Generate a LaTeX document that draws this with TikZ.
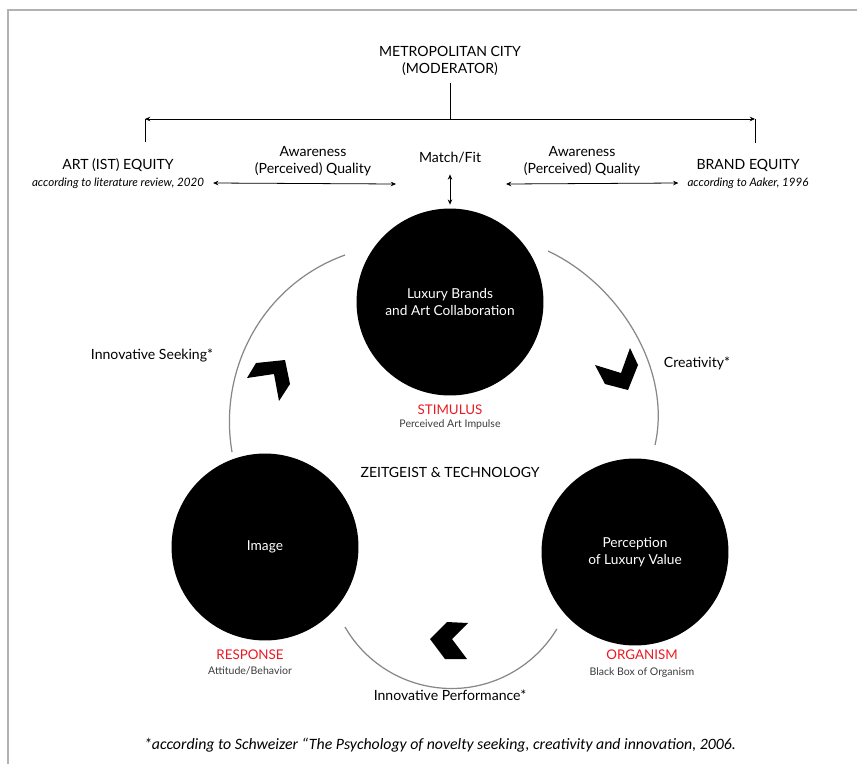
\documentclass[tikz,border=0pt]{standalone}
\usepackage{fontspec}
\setmainfont{Lato}
\newfontfamily\notefont{Carlito}
\usetikzlibrary{arrows.meta}
\definecolor{stimred}{RGB}{235,25,35}
\definecolor{ringgray}{RGB}{135,135,135}
\definecolor{subgray}{RGB}{60,60,60}

\tikzset{
  txt/.style={font=\fontsize{8}{10}\selectfont, align=center, inner sep=1pt},
  src/.style={font=\fontsize{6.6}{8}\selectfont\itshape, inner sep=1pt},
  redlab/.style={font=\fontsize{7.6}{9}\selectfont, text=stimred, inner sep=1pt},
  sublab/.style={font=\fontsize{6}{7}\selectfont, text=subgray, inner sep=1pt},
  blob/.style={circle, fill=black, minimum size=3.74cm, text=white,
    font=\fontsize{7.8}{9.6}\selectfont, align=center},
  ring/.style={ringgray, line width=0.7pt},
  dbl/.style={{Stealth[length=3pt,width=2.6pt]}-{Stealth[length=3pt,width=2.6pt]}, line width=0.45pt},
  chev/.style={fill=black}
}

\begin{document}
\begin{tikzpicture}[x=0.02cm,y=-0.02cm]
  \useasboundingbox (0,0) rectangle (857,764);

  % frame
  \draw[gray!60, line width=1.3pt] (8,764) -- (8,10) -- (857,10);

  % moderator on top
  \node[txt] (metro) at (450,61) {METROPOLITAN CITY\\(MODERATOR)};
  \coordinate (hub) at (450,119);
  \coordinate (hubL) at (145,119);
  \coordinate (hubR) at (755,119);

  \node[txt] (art) at (118,165) {ART (IST) EQUITY};
  \node[src] (artsrc) at (118,183) {according to literature review, 2020};
  \node[txt] (brand) at (748,165) {BRAND EQUITY};
  \node[src] (brandsrc) at (748,183) {according to Aaker, 1996};

  \node[txt] (qualL) at (313,161) {Awareness\\(Perceived) Quality};
  \node[txt] (qualR) at (582,161) {Awareness\\(Perceived) Quality};
  \node[txt] (fit) at (450,158) {Match/Fit};
  \coordinate (fitL) at (396,184);
  \coordinate (fitR) at (506,184);

  \draw[line width=0.45pt, shorten <=3pt] (metro.south) -- (hub);
  \draw[dbl] (hubL) -- (hubR);
  \draw[line width=0.45pt, shorten >=8pt] (hubL) -- (hubL |- art.north);
  \draw[line width=0.45pt, shorten >=8pt] (hubR) -- (hubR |- brand.north);
  \draw[dbl] ([xshift=4pt]artsrc.east) -- (fitL);
  \draw[dbl] (fitR) -- ([xshift=-4pt]brandsrc.west);

  % the three stages
  \node[blob] (stim) at (450,302) {Luxury Brands\\and Art Collaboration};
  \node[blob] (resp) at (265,547) {Image};
  \node[blob] (org) at (635,552) {Perception\\of Luxury Value};

  \draw[dbl, shorten <=5pt, shorten >=2pt] (fit.south) -- (stim.north);

  % ring between the stages
  \coordinate (ulA) at (345,255);
  \coordinate (ulB) at (232,452);
  \coordinate (urA) at (548,251);
  \coordinate (urB) at (655,445);
  \coordinate (btA) at (345,627);
  \draw[ring] (ulA) .. controls (262,285) and (218,370) .. (ulB);
  \draw[ring] (urA) .. controls (620,285) and (672,370) .. (urB);
  \draw[ring] (btA) arc[start angle=210, end angle=329, radius=2.46cm];

  \node[redlab] (stimlab) at (450,410) {STIMULUS};
  \node[sublab] (stimsub) at (450,425) {Perceived Art Impulse};
  \node[redlab] (resplab) at (250,655) {RESPONSE};
  \node[sublab] (respsub) at (250,671) {Attitude/Behavior};
  \node[redlab] (orglab) at (642,655) {ORGANISM};
  \node[sublab] (orgsub) at (642,673) {Black Box of Organism};

  \node[txt] (zeit) at (450,472) {ZEITGEIST \& TECHNOLOGY};
  \node[txt] (seek) at (152,355) {Innovative Seeking*};
  \node[txt] (crea) at (697,363) {Creativity*};
  \node[txt] (perf) at (450,695) {Innovative Performance*};

  % chevrons
  \fill[chev] (247,378) -- (256,363) -- (285,360) -- (290,384) -- (279,401) -- (274,374) -- cycle;
  \fill[chev] (595,365) -- (605,384) -- (628,390) -- (638,365) -- (630,348) -- (621,373) -- cycle;
  \fill[chev] (430,639) -- (447,622) -- (468,623) -- (452,639) -- (467,659) -- (445,659) -- cycle;

  % footnote
  \node[font=\notefont\itshape\fontsize{9}{11}\selectfont, inner sep=1pt] (note) at (440,745)
    {*according to Schweizer \textquotedblleft The Psychology of novelty seeking, creativity and innovation, 2006.};
\end{tikzpicture}
\end{document}
